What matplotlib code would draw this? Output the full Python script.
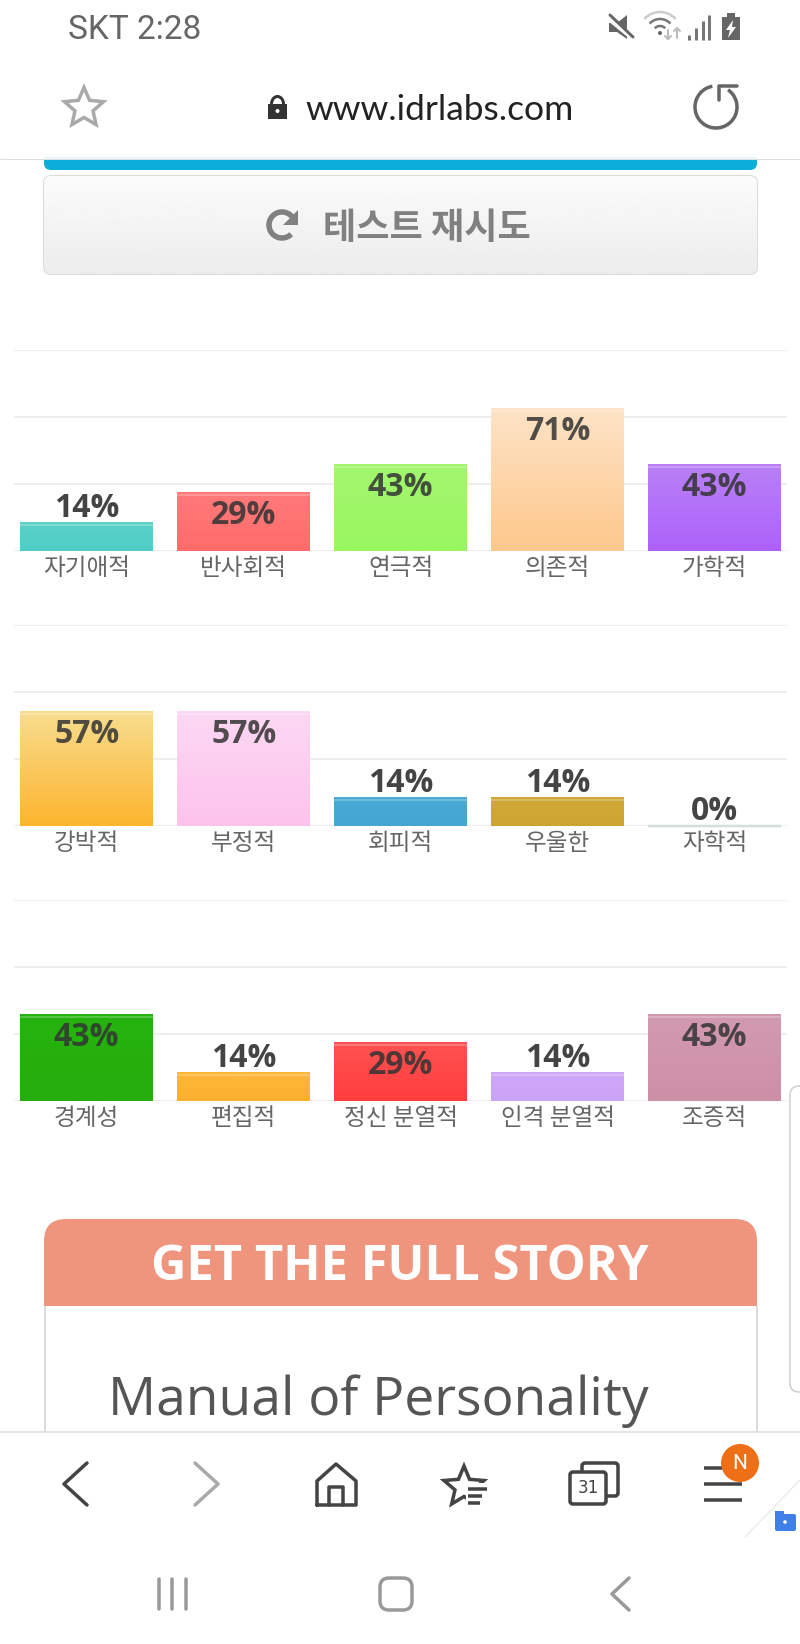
#!/usr/bin/env python3
# personality test result screenshot: three bar panels inside the phone browser
import numpy as np
import matplotlib
matplotlib.use("Agg")
import matplotlib.pyplot as plt
from matplotlib.colors import to_rgb
from matplotlib.patches import Arc, Circle, FancyBboxPatch, Polygon, Rectangle

# ---- data
grid_levels = [0, 33.3, 66.7, 100]

labels_1 = ["자기애적", "반사회적", "연극적", "의존적", "가학적"]
values_1 = [14, 29, 43, 71, 43]
top_1 = ["#5ad2c9", "#ff7a7a", "#a3f76f", "#fde3c6", "#b980f6"]
bottom_1 = ["#4fcdc4", "#ff6b6b", "#99f65f", "#fdc88c", "#ad62fb"]

labels_2 = ["강박적", "부정적", "회피적", "우울한", "자학적"]
values_2 = [57, 57, 14, 14, 0]
top_2 = ["#f8dd8e", "#fdd8f4", "#4aa9d6", "#d2a938", "#d5dede"]
bottom_2 = ["#fdb52e", "#fcc3ec", "#43a6d3", "#cda42e", "#d5dede"]

labels_3 = ["경계성", "편집적", "정신 분열적", "인격 분열적", "조증적"]
values_3 = [43, 14, 29, 14, 43]
top_3 = ["#26b30f", "#fdb83a", "#ff5252", "#d0a8f8", "#d29ab0"]
bottom_3 = ["#24ad0d", "#fdb02e", "#ff3d3d", "#cba3f6", "#cd8fa6"]

panels = [
    (labels_1, values_1, top_1, bottom_1, 350, 551),
    (labels_2, values_2, top_2, bottom_2, 625, 826),
    (labels_3, values_3, top_3, bottom_3, 900, 1101),
]

W, H = 800, 1644
KR = ["Noto Sans CJK KR", "DejaVu Sans"]
fig = plt.figure(figsize=(W / 100, H / 100), dpi=100, facecolor="white")

# ---- page and phone chrome, in pixel coordinates
bg = fig.add_axes([0, 0, 1, 1], zorder=0)
bg.axis("off")


def px(w):
    return w * 0.72


def line(xs, ys, color="#444444", w=3, z=5, cap="round"):
    bg.plot(xs, ys, color=color, lw=px(w), solid_capstyle=cap, solid_joinstyle="round", zorder=z)


def round_box(x, y, w, h, r, fc="white", ec="none", lw=1, z=3):
    p = FancyBboxPatch((x + r, y + r), w - 2 * r, h - 2 * r, boxstyle="round,pad=%g,rounding_size=%g" % (r, r),
                       fc=fc, ec=ec, lw=px(lw), zorder=z)
    bg.add_patch(p)
    return p


def star(cx, cy, R, r):
    a = np.arange(10) * np.pi / 5 - np.pi / 2
    rad = np.where(np.arange(10) % 2 == 0, R, r)
    return np.c_[cx + rad * np.cos(a), cy + rad * np.sin(a)]


# status bar
bg.text(68, 30, "SKT 2:28", family="Roboto", fontsize=24, color="#666666", va="center", ha="left")
bg.add_patch(Polygon([(609, 23), (617, 23), (627, 15), (627, 39), (617, 32), (609, 32)], fc="#666666", zorder=5))
line([607, 634], [17, 39], "white", 5, z=6)
line([610, 633], [15, 37], "#666666", 3, z=7)
for rad, col in [(7, "#777777"), (14, "#777777"), (21, "#cccccc")]:
    bg.add_patch(Arc((660, 33), 2 * rad, 2 * rad, theta1=222, theta2=318, ec=col, lw=px(2.5), zorder=5))
bg.add_patch(Circle((660, 33), 2, fc="#666666", zorder=5))
line([668, 668], [30, 39], "#bbbbbb", 2)
line([665, 668, 671], [36, 39, 36], "#bbbbbb", 2)
line([677, 677], [28, 38], "#bbbbbb", 2)
line([674, 677, 680], [31, 28, 31], "#bbbbbb", 2)
for sx, sy in [(689, 35), (696, 28), (703, 21), (709, 15)]:
    line([sx, sx], [sy, 40], "#777777", 3, cap="butt")
bg.add_patch(Rectangle((722, 17), 18, 23, fc="#666666", zorder=5))
bg.add_patch(Rectangle((727, 13), 8, 4, fc="#666666", zorder=5))
bg.add_patch(Polygon([(733, 20), (726, 30), (730, 30), (728, 38), (736, 27), (732, 27)], fc="white", zorder=6))

# address bar
bg.add_patch(Polygon(star(84, 108, 20.5, 9.5), fc="white", ec="#aaaaaa", lw=px(3.5), zorder=5))
bg.add_patch(Rectangle((268, 104), 19, 15, fc="#333333", zorder=5))
bg.add_patch(Arc((277.5, 104), 12, 15, theta1=180, theta2=360, ec="#333333", lw=px(3), zorder=5))
bg.add_patch(Circle((277.5, 111), 2, fc="white", zorder=6))
bg.text(305, 110, "www.idrlabs.com", family="Lato", fontsize=25.5, color="#222222", va="center", ha="left")
bg.add_patch(Arc((716, 107), 42, 42, theta1=-55, theta2=260, ec="#666666", lw=px(3.5), zorder=5))
line([719, 719, 737], [100, 86, 86], "#666666", 3.5)

# blue bar cut by the address bar
round_box(44, 140, 713, 30, 7, fc="#0cadd9", z=2)
bg.add_patch(Rectangle((0, 0), W, 159, fc="white", zorder=2.5))
bg.add_patch(Rectangle((44, 157), 713, 2.5, fc="#e8f7fb", zorder=2.6))
line([0, W], [159.5, 159.5], "#dddddd", 1, z=3, cap="butt")

# retry button
btn = round_box(44, 176, 713, 98, 7, fc="#f4f4f4", ec="#dcdcdc", lw=2)
grad = np.linspace(0.985, 0.925, 64)[:, None]
im = bg.imshow(grad, cmap="gray", vmin=0, vmax=1, extent=(44, 757, 274, 176), aspect="auto", zorder=3.1)
im.set_clip_path(btn)
bg.add_patch(Arc((282, 225), 26, 26, theta1=45, theta2=325, ec="#808080", lw=px(5.5), zorder=5))
bg.add_patch(Polygon([(298, 210), (298, 225), (283, 225)], fc="#808080", zorder=5))
bg.text(427, 229, "테스트 재시도", family=KR, fontsize=26, fontweight="bold", color="#808080", va="center", ha="center",
        zorder=5)

# scrollbar at the right edge
round_box(790, 1086, 40, 306, 9, fc="white", ec="#cfcfcf", lw=1.5)

# promo card
round_box(44, 1219, 713, 130, 22, fc="#f0957d", z=2)
bg.add_patch(Rectangle((44, 1306), 713, 130, fc="white", zorder=2.5))
line([44.5, 44.5], [1306, 1432], "#dddddd", 2, z=3, cap="butt")
line([756.5, 756.5], [1306, 1432], "#dddddd", 2, z=3, cap="butt")
bg.text(400, 1267, "GET THE FULL STORY", family="Open Sans", fontweight="bold", fontsize=35.2, color="white",
        va="center", ha="center", zorder=4)
bg.text(108, 1401, "Manual of Personality", family="Open Sans", fontsize=38.4, color="#555555",
        va="center", ha="left", zorder=4)

# browser toolbar
bg.add_patch(Rectangle((0, 1432), W, H - 1432, fc="white", zorder=8))
line([0, W], [1432, 1432], "#dddddd", 1.5, z=9, cap="butt")
Z = 10
line([87, 64, 87], [1463, 1484, 1505], "#444444", 3.5, z=Z)
line([195, 218, 195], [1463, 1484, 1505], "#aaaaaa", 3.5, z=Z)
line([317, 317, 336, 356, 356, 317], [1505, 1481, 1464, 1481, 1505, 1505], "#444444", 3.5, z=Z)
line([329, 329, 343, 343], [1505, 1487, 1487, 1505], "#444444", 3.5, z=Z)
bg.add_patch(Polygon(star(464, 1487, 21, 9.5), fc="white", ec="#444444", lw=px(3.5), zorder=Z))
bg.add_patch(Rectangle((466, 1483), 24, 30, fc="white", zorder=Z + 0.1))
for lx, ly in [(487, 1489), (482, 1496), (480, 1503)]:
    line([468, lx], [ly, ly], "#444444", 3.5, z=Z + 0.2, cap="butt")
round_box(582, 1463, 36, 33, 3, fc="white", ec="#444444", lw=3.5, z=Z)
round_box(570, 1472, 36, 32, 3, fc="white", ec="#444444", lw=3.5, z=Z + 0.1)
bg.text(588, 1488, "31", family="DejaVu Sans", fontsize=12, color="#444444", va="center", ha="center", zorder=Z + 0.2)
for ly in [1468, 1484, 1500]:
    line([704, 742], [ly, ly], "#444444", 3.5, z=Z, cap="butt")
bg.add_patch(Circle((740, 1463), 19, fc="#ef6f17", zorder=Z + 1))
bg.text(740, 1463, "N", family="Roboto", fontsize=15, color="white", va="center", ha="center", zorder=Z + 2)
line([800, 745], [1480, 1537], "#e4e4e4", 1, z=Z)
round_box(775, 1514, 21, 17, 2, fc="#3f7fe8", z=Z)
bg.add_patch(Rectangle((775, 1511), 9, 5, fc="#3f7fe8", zorder=Z))
bg.add_patch(Circle((785, 1522), 1.8, fc="white", zorder=Z + 1))

# android nav bar
for nx in [159, 172, 186]:
    line([nx, nx], [1579, 1609], "#999999", 3.5, z=Z)
round_box(380, 1578, 32, 32, 9, fc="white", ec="#999999", lw=3.5, z=Z)
line([629, 612, 629], [1578, 1594, 1610], "#999999", 3.5, z=Z)

bg.set_xlim(0, W)
bg.set_ylim(H, 0)

# ---- bar panels
for labels, values, top, bottom, y_top, y_base in panels:
    ax = fig.add_axes([8.2 / W, 1 - y_base / H, 785 / W, (y_base - y_top) / H], zorder=1)
    ax.patch.set_alpha(0)
    for s in ax.spines.values():
        s.set_visible(False)
    x = np.arange(len(values))
    ax.hlines(grid_levels, -0.463, 4.46, color="#eeeeee", lw=px(2), zorder=1)
    bars = ax.bar(x, values, width=0.847, color="none", zorder=2)
    for b, c1, c2, v in zip(bars, top, bottom, values):
        left, right = b.get_x(), b.get_x() + b.get_width()
        if v == 0:
            ax.hlines(0, left, right, color=c1, lw=px(2.5), zorder=2, clip_on=False)
        else:
            t = np.linspace(0, 1, 64)[:, None, None]
            img = (1 - t) * np.array(to_rgb(c1)) + t * np.array(to_rgb(c2))
            ax.imshow(img, extent=(left, right, 0, v), aspect="auto", origin="upper", zorder=2.1)
            ax.hlines(v - 1.3, left, right, color="white", alpha=0.3, lw=px(1.5), zorder=2.2)
        # short bars carry the value above them, tall ones inside
        if v < 20:
            ax.text(b.get_x() + b.get_width() / 2, v + 7.2, "%d%%" % v, family="Open Sans", fontweight="bold",
                    fontsize=23, color="#444444", ha="center", va="center", zorder=3)
        else:
            ax.text(b.get_x() + b.get_width() / 2, v - 11.3, "%d%%" % v, family="Open Sans", fontweight="bold",
                    fontsize=23, color="#333333", alpha=0.85, ha="center", va="center", zorder=3)
    ax.set_xticks(x)
    ax.set_xticklabels(labels, family=KR, fontsize=17, color="#666666")
    ax.tick_params(axis="x", length=0, pad=4)
    ax.set_yticks([])
    ax.set_xlim(-0.5, 4.5)
    ax.set_ylim(0, 100)

fig.savefig("out.png", dpi=100)
